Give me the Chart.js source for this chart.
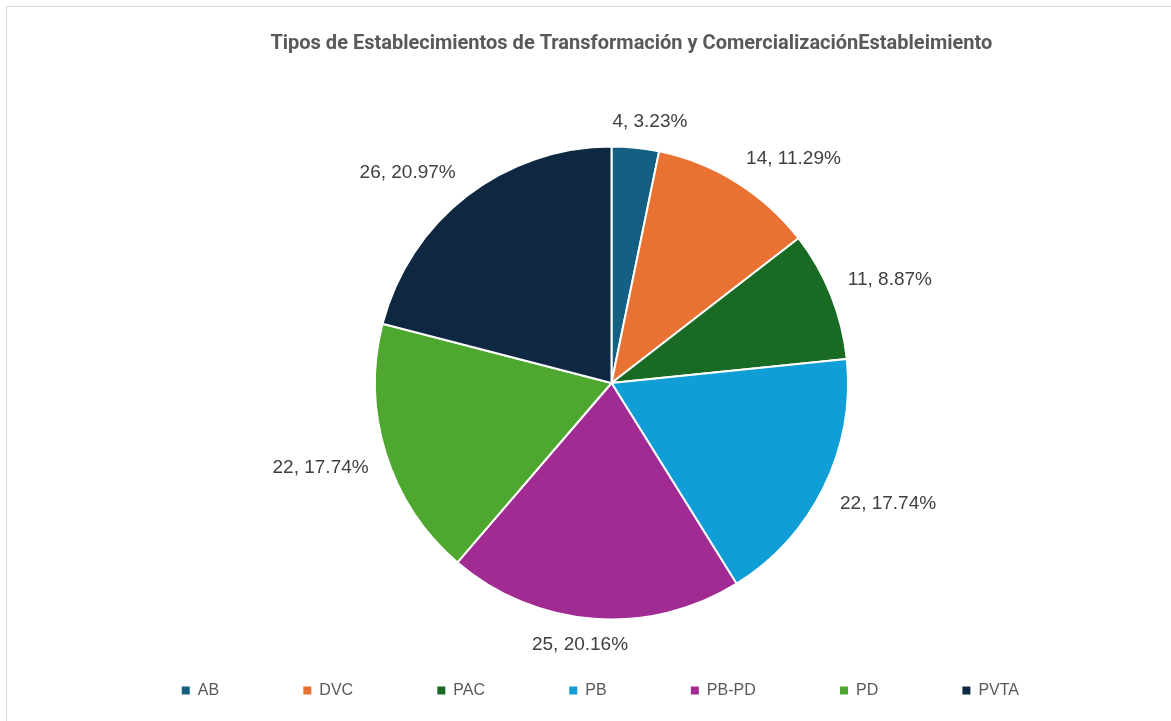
<!DOCTYPE html>
<html>
<head>
<meta charset="utf-8">
<script src="https://cdn.jsdelivr.net/npm/chart.js@4.4.1/dist/chart.umd.min.js"></script>
<style>
body { margin: 0; background: #fff; overflow: hidden; }
#wrap { position: absolute; left: 6px; top: 6px; width: 1209px; height: 714px; border: 1px solid #d9d9d9; }
</style>
</head>
<body>
<div id="wrap"><canvas id="pieChart" width="1209" height="714"></canvas></div>
<script>
const categorias = ['AB', 'DVC', 'PAC', 'PB', 'PB-PD', 'PD', 'PVTA'];
const cantidades = [4, 14, 11, 22, 25, 22, 26];
const colores = ['#156082', '#E97132', '#196B24', '#0F9ED5', '#A02B93', '#4EA72E', '#0E2841'];
const titulo = 'Tipos de Establecimientos de Transformación y ComercializaciónEstableimiento';

const total = cantidades.reduce((a, b) => a + b, 0);

// etiquetas "valor, porcentaje" fuera de cada sector, como en Excel
const etiquetas = {
  id: 'etiquetas',
  afterDatasetsDraw(chart) {
    const ctx = chart.ctx;
    const meta = chart.getDatasetMeta(0);
    const clamp = v => Math.max(-1, Math.min(1, v / 0.3));
    ctx.save();
    ctx.font = '19px "Liberation Sans", Arial, sans-serif';
    ctx.fillStyle = '#404040';
    ctx.textAlign = 'center';
    ctx.textBaseline = 'middle';
    meta.data.forEach((arc, i) => {
      const p = arc.getProps(['x', 'y', 'startAngle', 'endAngle', 'outerRadius'], true);
      const a = (p.startAngle + p.endAngle) / 2;
      const txt = cantidades[i] + ', ' + (cantidades[i] / total * 100).toFixed(2) + '%';
      const w = ctx.measureText(txt).width;
      const h = 17;
      const d = p.outerRadius + 18;
      const cx = Math.cos(a), cy = Math.sin(a);
      ctx.fillText(txt, p.x + d * cx + w / 2 * clamp(cx), p.y + d * cy + h / 2 * clamp(cy));
    });
    ctx.restore();
  }
};

const chart = new Chart(document.getElementById('pieChart'), {
  type: 'pie',
  data: {
    labels: categorias,
    datasets: [{
      data: cantidades,
      backgroundColor: colores,
      borderColor: '#ffffff',
      borderWidth: 2
    }]
  },
  options: {
    responsive: false,
    animation: false,
    devicePixelRatio: 1,
    layout: { padding: { bottom: 12.5 } },
    plugins: {
      title: {
        display: true,
        // espacios al inicio para desplazar el título a la derecha como en el original
        text: '\u00a0'.repeat(8) + titulo,
        color: '#595959',
        font: { family: 'Roboto, "Liberation Sans", Arial, sans-serif', size: 20, weight: 'bold' },
        padding: { top: 25, bottom: 89.5 }
      },
      legend: {
        position: 'bottom',
        labels: {
          boxWidth: 8,
          boxHeight: 8,
          padding: 62,
          color: '#595959',
          font: { family: '"Liberation Sans", Arial, sans-serif', size: 16 },
          generateLabels(c) {
            const items = Chart.overrides.doughnut.plugins.legend.labels.generateLabels(c);
            items.forEach(it => { it.text = it.text + '\u00a0\u00a0\u00a0\u00a0\u00a0'; it.lineWidth = 0; });
            return items;
          }
        }
      },
      tooltip: { enabled: false }
    }
  },
  plugins: [etiquetas]
});
</script>
</body>
</html>
